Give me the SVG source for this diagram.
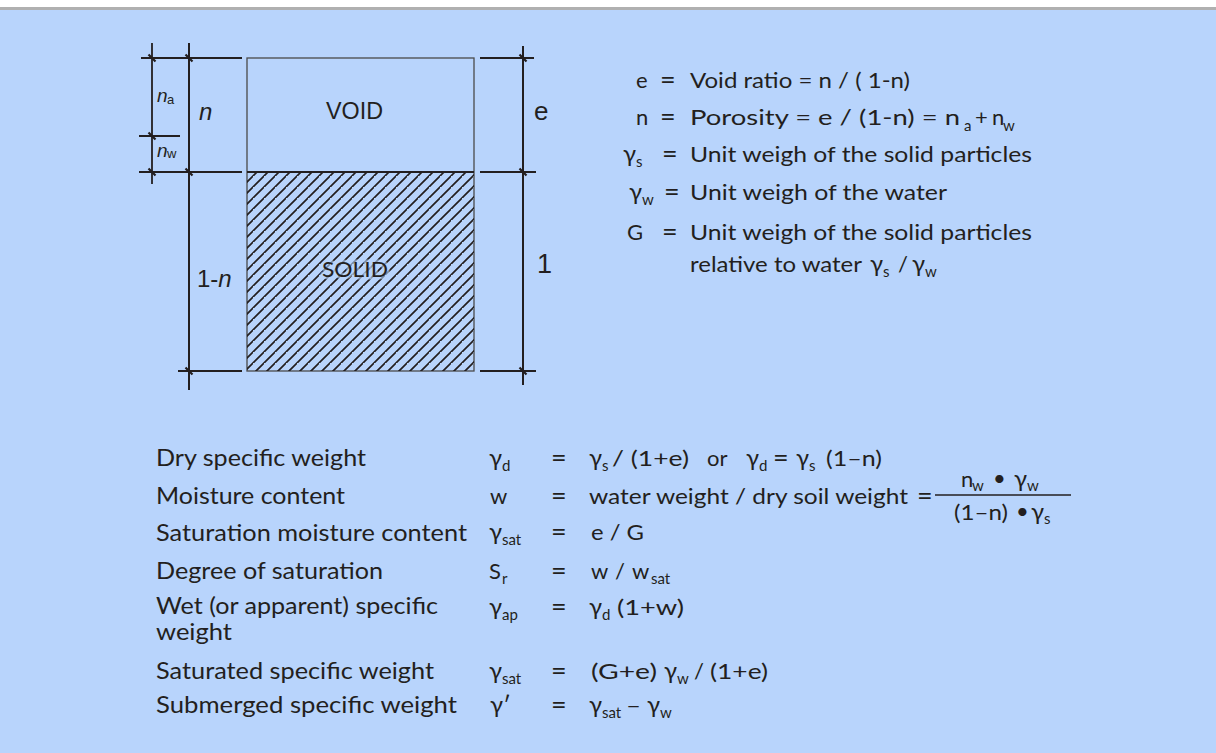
<svg xmlns="http://www.w3.org/2000/svg" width="1216" height="753" viewBox="0 0 1216 753">
<defs>
<pattern id="hatch" patternUnits="userSpaceOnUse" width="11" height="11">
<path d="M-1,12 L12,-1 M-3,2 L2,-3 M9,13 L13,9" stroke="#231f20" stroke-width="1.7"/>
</pattern>
</defs>
<style>
.t{font-family:Lato,"Open Sans","DejaVu Sans",sans-serif;fill:#231f20;font-size:22px}
.lb{font-size:23px}
.sub{font-size:15px}
.g{font-size:24px}
.eq{font-size:27px}
.dl{font-family:"Liberation Sans",Arial,sans-serif;fill:#231f20}
.it{font-style:italic}
.dim{stroke:#231f20;stroke-width:1.8;fill:none}
.ext{stroke:#231f20;stroke-width:2;fill:none}
.tick{stroke:#231f20;stroke-width:2.2;fill:none}
</style>
<rect x="0" y="0" width="1216" height="753" fill="#b8d4fc"/>
<rect x="0" y="0" width="1216" height="7" fill="#ffffff"/>
<rect x="0" y="7" width="1216" height="3" fill="#b0b0b0"/>

<g id="soil-diagram">
<rect x="247" y="58" width="227" height="313" fill="none" stroke="#4a4a4a" stroke-width="1.3"/>
<rect x="247" y="172" width="227" height="199" fill="url(#hatch)"/>
<line x1="247" y1="172" x2="474" y2="172" class="ext"/>
<text x="326" y="119" class="dl" font-size="24" textLength="57" lengthAdjust="spacingAndGlyphs">VOID</text>
<text x="322" y="277" class="t" font-size="25" textLength="66" lengthAdjust="spacingAndGlyphs" stroke="#b8d4fc" stroke-width="5" stroke-opacity="0.6" paint-order="stroke">SOLID</text>
</g>

<g id="connectors">
<line x1="152" y1="43" x2="152" y2="184" class="dim"/>
<line x1="189" y1="43" x2="189" y2="390" class="ext"/>
<line x1="523" y1="46" x2="523" y2="385" class="ext"/>
<line x1="141" y1="58" x2="242" y2="58" class="ext"/>
<line x1="139" y1="136" x2="180" y2="136" class="ext"/>
<line x1="139" y1="172" x2="242" y2="172" class="ext"/>
<line x1="178" y1="371" x2="242" y2="371" class="ext"/>
<line x1="480" y1="58" x2="534" y2="58" class="ext"/>
<line x1="480" y1="172" x2="536" y2="172" class="ext"/>
<line x1="480" y1="371" x2="536" y2="371" class="ext"/>
<path class="tick" d="M148.5,54.5 l7,7 M185.5,54.5 l7,7 M148.5,132.5 l7,7 M148.5,168.5 l7,7 M185.5,168.5 l7,7 M185.5,367.5 l7,7 M519.5,54.5 l7,7 M519.5,168.5 l7,7 M519.5,367.5 l7,7"/>
</g>

<g id="dim-labels">
<text x="157" y="102" class="dl it" font-size="19">n</text>
<text x="167" y="104" class="dl" font-size="13">a</text>
<text x="157" y="157" class="dl it" font-size="19">n</text>
<text x="167" y="158" class="dl" font-size="13">w</text>
<text x="199" y="120" class="dl it" font-size="24">n</text>
<text x="197" y="287" class="dl" font-size="24">1-<tspan class="it">n</tspan></text>
<text x="534" y="120" class="dl" font-size="26">e</text>
<text x="537" y="273" class="dl" font-size="27">1</text>
</g>

<g id="definitions">
<text x="636" y="88" class="t">e</text>
<text x="660" y="89" class="t eq">=</text>
<text x="690" y="88" class="t" textLength="220" lengthAdjust="spacingAndGlyphs">Void ratio = n / ( 1-n)</text>
<text x="636" y="125" class="t">n</text>
<text x="660" y="126" class="t eq">=</text>
<text x="690" y="125" class="t" textLength="270" lengthAdjust="spacingAndGlyphs">Porosity = e / (1-n) = n</text>
<text x="964" y="131" class="t sub">a</text>
<text x="975" y="125" class="t" font-size="24">+</text>
<text x="992" y="125" class="t">n</text>
<text x="1003" y="131" class="t sub">w</text>
<text x="623" y="162" class="t g">γ</text>
<text x="636" y="167" class="t sub">s</text>
<text x="662" y="163" class="t eq">=</text>
<text x="690" y="162" class="t" textLength="342" lengthAdjust="spacingAndGlyphs">Unit weigh of the solid particles</text>
<text x="629" y="200" class="t g">γ</text>
<text x="642" y="205" class="t sub">w</text>
<text x="664" y="201" class="t eq">=</text>
<text x="690" y="200" class="t" textLength="257" lengthAdjust="spacingAndGlyphs">Unit weigh of the water</text>
<text x="627" y="240" class="t">G</text>
<text x="662" y="241" class="t eq">=</text>
<text x="690" y="240" class="t" textLength="342" lengthAdjust="spacingAndGlyphs">Unit weigh of the solid particles</text>
<text x="690" y="272" class="t" textLength="172" lengthAdjust="spacingAndGlyphs">relative to water</text>
<text x="870" y="272" class="t g">γ</text>
<text x="883" y="277" class="t sub">s</text>
<text x="898" y="272" class="t">/</text>
<text x="912" y="272" class="t g">γ</text>
<text x="925" y="277" class="t sub">w</text>
</g>

<g id="row-dry">
<text x="156" y="466" class="t lb" textLength="210" lengthAdjust="spacingAndGlyphs">Dry specific weight</text>
<text x="489" y="466" class="t g">γ</text><text x="502" y="471" class="t sub">d</text>
<text x="551" y="467" class="t eq">=</text>
<text x="589" y="466" class="t g">γ</text><text x="602" y="471" class="t sub">s</text>
<text x="612" y="466" class="t" textLength="77" lengthAdjust="spacingAndGlyphs">/ (1+e)</text>
<text x="707" y="466" class="t">or</text>
<text x="746" y="466" class="t g">γ</text><text x="759" y="471" class="t sub">d</text>
<text x="773" y="467" class="t eq">=</text>
<text x="796" y="466" class="t g">γ</text><text x="809" y="471" class="t sub">s</text>
<text x="826" y="466" class="t" textLength="56" lengthAdjust="spacingAndGlyphs">(1–n)</text>
</g>

<g id="row-moisture">
<text x="156" y="504" class="t lb" textLength="189" lengthAdjust="spacingAndGlyphs">Moisture content</text>
<text x="490" y="504" class="t">w</text>
<text x="551" y="505" class="t eq">=</text>
<text x="589" y="504" class="t" textLength="319" lengthAdjust="spacingAndGlyphs">water weight / dry soil weight</text>
<text x="917" y="505" class="t eq">=</text>
<line x1="935" y1="495" x2="1071" y2="495" stroke="#231f20" stroke-width="1.6"/>
<text x="961" y="487" class="t">n</text><text x="972" y="491" class="t sub">w</text>
<text x="993" y="486" class="t" font-size="16">•</text>
<text x="1014" y="487" class="t g">γ</text><text x="1027" y="491" class="t sub">w</text>
<text x="954" y="520" class="t" textLength="54" lengthAdjust="spacingAndGlyphs">(1–n)</text>
<text x="1016" y="519" class="t" font-size="16">•</text>
<text x="1031" y="520" class="t g">γ</text><text x="1044" y="524" class="t sub">s</text>
</g>

<g id="row-saturation-moisture">
<text x="156" y="541" class="t lb" textLength="311" lengthAdjust="spacingAndGlyphs">Saturation moisture content</text>
<text x="489" y="540" class="t g">γ</text><text x="502" y="545" class="t sub">sat</text>
<text x="551" y="541" class="t eq">=</text>
<text x="591" y="540" class="t" textLength="53" lengthAdjust="spacingAndGlyphs">e / G</text>
</g>

<g id="row-degree">
<text x="156" y="579" class="t lb" textLength="227" lengthAdjust="spacingAndGlyphs">Degree of saturation</text>
<text x="489" y="579" class="t">S</text><text x="502" y="584" class="t sub">r</text>
<text x="551" y="580" class="t eq">=</text>
<text x="591" y="579" class="t">w</text>
<text x="615" y="579" class="t">/</text>
<text x="632" y="579" class="t">w</text><text x="651" y="584" class="t sub">sat</text>
</g>

<g id="row-wet">
<text x="156" y="614" class="t lb" textLength="282" lengthAdjust="spacingAndGlyphs">Wet (or apparent) specific</text>
<text x="156" y="640" class="t lb" textLength="76" lengthAdjust="spacingAndGlyphs">weight</text>
<text x="489" y="615" class="t g">γ</text><text x="502" y="620" class="t sub">ap</text>
<text x="551" y="616" class="t eq">=</text>
<text x="589" y="615" class="t g">γ</text><text x="602" y="620" class="t sub">d</text>
<text x="617" y="615" class="t" textLength="67" lengthAdjust="spacingAndGlyphs">(1+w)</text>
</g>

<g id="row-saturated">
<text x="156" y="679" class="t lb" textLength="278" lengthAdjust="spacingAndGlyphs">Saturated specific weight</text>
<text x="489" y="679" class="t g">γ</text><text x="502" y="684" class="t sub">sat</text>
<text x="551" y="680" class="t eq">=</text>
<text x="591" y="679" class="t" textLength="66" lengthAdjust="spacingAndGlyphs">(G+e)</text>
<text x="664" y="679" class="t g">γ</text><text x="677" y="684" class="t sub">w</text>
<text x="694" y="679" class="t">/</text>
<text x="710" y="679" class="t" textLength="58" lengthAdjust="spacingAndGlyphs">(1+e)</text>
</g>

<g id="row-submerged">
<text x="156" y="713" class="t lb" textLength="301" lengthAdjust="spacingAndGlyphs">Submerged specific weight</text>
<text x="490" y="713" class="t g">γ′</text>
<text x="551" y="714" class="t eq">=</text>
<text x="589" y="713" class="t g">γ</text><text x="602" y="718" class="t sub">sat</text>
<text x="626" y="713" class="t" font-size="26" textLength="15" lengthAdjust="spacingAndGlyphs">–</text>
<text x="647" y="713" class="t g">γ</text><text x="660" y="718" class="t sub">w</text>
</g>
</svg>
